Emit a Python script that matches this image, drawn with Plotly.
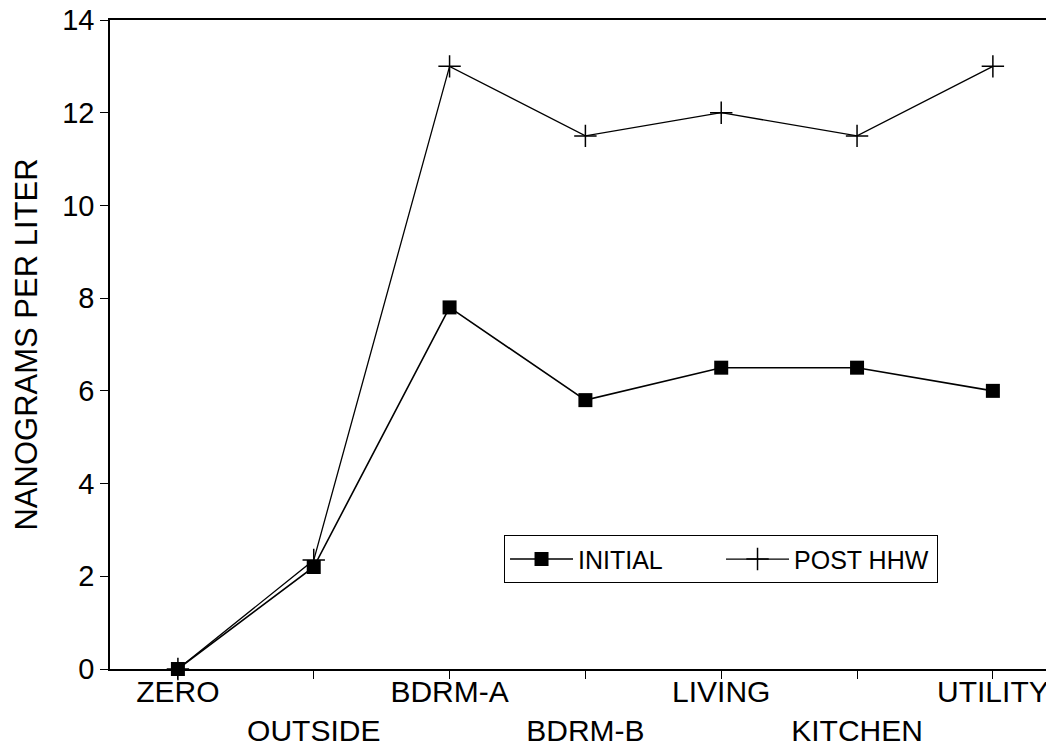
import plotly.graph_objects as go

categories = ["ZERO", "OUTSIDE", "BDRM-A", "BDRM-B", "LIVING", "KITCHEN", "UTILITY"]
initial = [0.0, 2.2, 7.8, 5.8, 6.5, 6.5, 6.0]
post_hhw = [0.0, 2.35, 13.0, 11.5, 12.0, 11.5, 13.0]
y_ticks = [0, 2, 4, 6, 8, 10, 12, 14]

xpos = list(range(len(categories)))
tick_text = [c if i % 2 == 0 else "<br>" + c for i, c in enumerate(categories)]

FONT = "Liberation Sans, Arial, Helvetica, sans-serif"

fig = go.Figure()
fig.add_trace(go.Scatter(
    x=xpos, y=initial, name="INITIAL", mode="lines+markers",
    line=dict(color="black", width=1.6),
    marker=dict(symbol="square", size=14, color="black"),
    cliponaxis=False,
))
fig.add_trace(go.Scatter(
    x=xpos, y=post_hhw, name="POST HHW", mode="lines+markers",
    line=dict(color="black", width=1.3),
    marker=dict(symbol="cross-thin", size=16, line=dict(color="black", width=1.5)),
    cliponaxis=False,
))

# page body has an 8px margin, so the figure is offset by (8, 8) in the window
fig.update_layout(
    width=1046, height=743,
    margin=dict(l=102, r=0, t=12, b=82),
    paper_bgcolor="white", plot_bgcolor="white",
    font=dict(family=FONT, color="black", size=28),
    showlegend=True,
    legend=dict(
        x=0.4174, y=0.206, xanchor="left", yanchor="top",
        orientation="h", bordercolor="black", borderwidth=1,
        bgcolor="white", font=dict(size=25, family=FONT, color="black"),
        entrywidth=138, entrywidthmode="pixels", itemwidth=63,
    ),
)
fig.update_xaxes(
    range=[-0.5, 6.45], tickmode="array", tickvals=xpos, ticktext=tick_text,
    showline=True, linecolor="black", linewidth=1.5, mirror=True,
    ticks="outside", ticklen=8, tickcolor="black", tickwidth=1.2,
    showgrid=False, zeroline=False, tickfont=dict(size=30),
    automargin=False, ticklabelstandoff=-13,
)
fig.update_yaxes(
    range=[0, 14], tickmode="array", tickvals=y_ticks,
    showline=True, linecolor="black", linewidth=1.5,
    ticks="outside", ticklen=8, tickcolor="black", tickwidth=1.2,
    showgrid=False, zeroline=False, tickfont=dict(size=29),
    automargin=False, ticklabeloverflow="allow",
    title=dict(text="NANOGRAMS PER LITER", font=dict(size=31), standoff=15),
)

fig.write_html("out.html")
